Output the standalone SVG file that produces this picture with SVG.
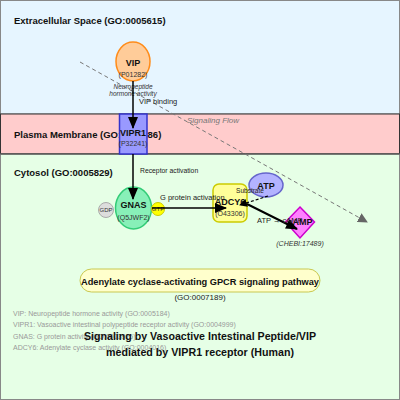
<svg xmlns="http://www.w3.org/2000/svg" width="400" height="400" viewBox="0 0 400 400">
<style>
text{font-family:"Liberation Sans",Arial,sans-serif;}
.comp{font-size:9.5px;font-weight:bold;fill:#111;}
.nl{font-size:9px;font-weight:bold;fill:#111;text-anchor:middle;}
.id{font-size:7px;fill:#333;text-anchor:middle;}
.el{font-size:7.5px;fill:#222;}
.leg{font-size:7px;fill:#999;}
.ital{font-style:italic;}
.edge{stroke:#000;stroke-width:1.5;fill:none;}
</style>
<defs>
<marker id="ah" markerUnits="userSpaceOnUse" markerWidth="12" markerHeight="10" refX="11" refY="5" orient="auto">
<path d="M0,0 L12,5 L0,10 Z" fill="#000"/>
</marker>
<marker id="ahs" markerUnits="userSpaceOnUse" markerWidth="8" markerHeight="8" refX="7" refY="4" orient="auto">
<path d="M0,0 L8,4 L0,8 Z" fill="#000"/>
</marker>
<marker id="ahg" markerUnits="userSpaceOnUse" markerWidth="10" markerHeight="10" refX="9" refY="5" orient="auto">
<path d="M0,0 L10,5 L0,10 Z" fill="#666"/>
</marker>
</defs>

<g id="compartments">
<rect x="0.5" y="0.5" width="399" height="113.5" fill="#e6f5ff" stroke="#888"/>
<rect x="0.5" y="114" width="399" height="40" fill="#ffcccc" stroke="#333"/>
<rect x="0.5" y="154" width="399" height="245.5" fill="#e6ffe6" stroke="#888"/>
<line x1="0.5" y1="154" x2="399.5" y2="154" stroke="#333"/>
<text class="comp" x="14" y="23.5">Extracellular Space (GO:0005615)</text>
<text class="comp" x="14" y="137.5">Plasma Membrane (GO:0005886)</text>
<text class="comp" x="14" y="176">Cytosol (GO:0005829)</text>
</g>

<g id="signaling-flow">
<line x1="80" y1="62" x2="367" y2="222" stroke="#777" stroke-width="1" stroke-dasharray="4,3" marker-end="url(#ahg)"/>
<text x="187" y="123" font-size="8" fill="#777" class="ital">Signaling Flow</text>
</g>

<g id="VIP">
<ellipse cx="133" cy="61.5" rx="17" ry="19.5" fill="#ffcc99" stroke="#ff8c1a" stroke-width="1.5"/>
<text class="nl" x="133" y="65.5">VIP</text>
<text class="id" x="133" y="77">(P01282)</text>
<text x="133" y="88.5" font-size="6.5" fill="#333" text-anchor="middle" class="ital">Neuropeptide</text>
<text x="133" y="96" font-size="6.5" fill="#333" text-anchor="middle" class="ital">hormone activity</text>
</g>

<g id="VIPR1">
<rect x="119.5" y="114" width="27.5" height="40" fill="#9999ff" stroke="#3333cc" stroke-width="1.5"/>
<text class="nl" x="133" y="135.5" font-size="8.5">VIPR1</text>
<text class="id" x="133" y="146" font-size="6.5">(P32241)</text>
</g>

<g id="GNAS">
<ellipse cx="133.5" cy="208" rx="18" ry="21" fill="#88f0b8" stroke="#33cc77" stroke-width="1.5"/>
<text class="nl" x="133.5" y="207.5" font-size="8.5">GNAS</text>
<text class="id" x="133.5" y="219.5" font-size="6.5">(Q5JWF2)</text>
</g>

<g id="GDP">
<circle cx="106" cy="210" r="7.5" fill="#dddddd" stroke="#aaaaaa"/>
<text x="106" y="212" font-size="6" fill="#333" text-anchor="middle">GDP</text>
</g>

<g id="GTP">
<circle cx="158" cy="209" r="6.5" fill="#ffff00" stroke="#cccc00"/>
<text x="158" y="211" font-size="6" fill="#333" text-anchor="middle">GTP</text>
</g>

<g id="ADCY6">
<rect x="213" y="184" width="34" height="38" rx="6" fill="#ffff99" stroke="#cccc00" stroke-width="1.5"/>
<text class="nl" x="230" y="204.5" font-size="8.5">ADCY6</text>
<text class="id" x="230" y="215.5" font-size="6.5">(O43306)</text>
</g>

<g id="ATP">
<ellipse cx="266" cy="185" rx="17" ry="12" fill="#b3b3ff" stroke="#6666cc" stroke-width="1.5"/>
<text class="nl" x="266" y="188.5">ATP</text>
</g>

<g id="cAMP">
<polygon points="300,207 314.5,222 300,238 285.5,222" fill="#ff80ff" stroke="#cc00cc" stroke-width="1.5"/>
<text class="nl" x="300" y="225" font-size="8.5">cAMP</text>
<text x="300" y="246" font-size="7" fill="#333" text-anchor="middle" class="ital">(CHEBI:17489)</text>
</g>

<g id="connectors">
<line class="edge" x1="133" y1="81" x2="133" y2="128" marker-end="url(#ah)"/>
<line class="edge" x1="133" y1="154" x2="133" y2="199" marker-end="url(#ah)"/>
<line class="edge" x1="152" y1="208" x2="226" y2="208" marker-end="url(#ah)"/>
<line x1="268" y1="196" x2="240" y2="205" stroke="#000" stroke-width="1.2" stroke-dasharray="3,2" marker-end="url(#ahs)"/>
<line x1="247" y1="204" x2="297" y2="229" stroke="#000" stroke-width="2" marker-end="url(#ah)"/>
<text class="el" x="139" y="103.5">VIP binding</text>
<text x="140" y="173" font-size="6.8" fill="#222">Receptor activation</text>
<text class="el" x="160" y="199.5" font-size="8">G protein activation</text>
<text x="250" y="193" font-size="6.5" fill="#222" text-anchor="middle">Substrate</text>
<text class="el" x="257" y="223" font-size="8">ATP → cAMP</text>
</g>

<g id="pathway">
<rect x="80" y="269" width="240" height="23" rx="11.5" fill="#ffffcc" stroke="#c8c850" stroke-width="1"/>
<text x="200" y="285" font-size="9.5" font-weight="bold" fill="#111" text-anchor="middle" textLength="238" lengthAdjust="spacingAndGlyphs">Adenylate cyclase-activating GPCR signaling pathway</text>
<text x="200" y="300" font-size="8" fill="#222" text-anchor="middle">(GO:0007189)</text>
</g>

<g id="legend">
<text class="leg" x="13" y="315.5">VIP: Neuropeptide hormone activity (GO:0005184)</text>
<text class="leg" x="13" y="327">VIPR1: Vasoactive intestinal polypeptide receptor activity (GO:0004999)</text>
<text class="leg" x="13" y="338.5">GNAS: G protein activity (GO:0003925)</text>
<text class="leg" x="13" y="350">ADCY6: Adenylate cyclase activity (GO:0004016)</text>
</g>

<g id="title">
<text x="200" y="339.5" font-size="11" font-weight="bold" fill="#111" text-anchor="middle" textLength="232" lengthAdjust="spacingAndGlyphs">Signaling by Vasoactive Intestinal Peptide/VIP</text>
<text x="200" y="355.5" font-size="11" font-weight="bold" fill="#111" text-anchor="middle" textLength="188" lengthAdjust="spacingAndGlyphs">mediated by VIPR1 receptor (Human)</text>
</g>
</svg>
